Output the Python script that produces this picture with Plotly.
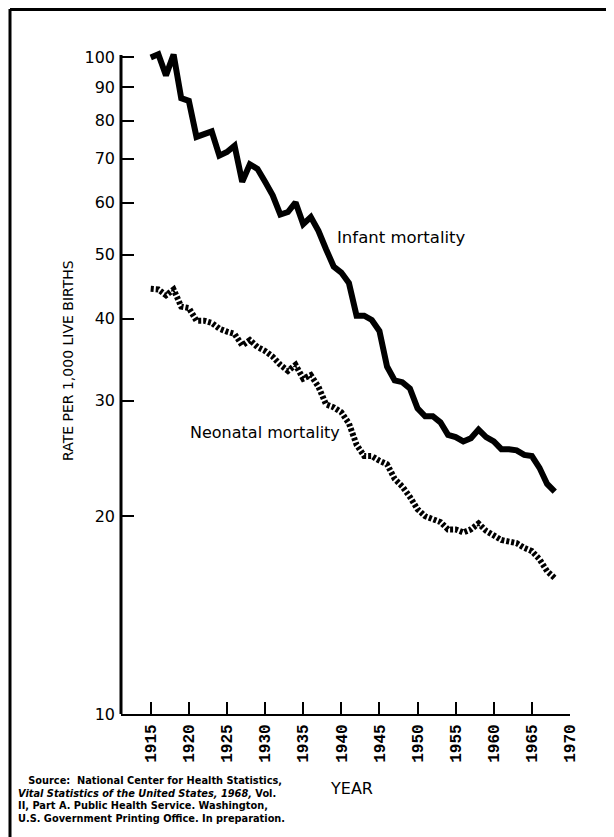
import plotly.graph_objects as go

years = list(range(1915, 1969))
infant = [99.9, 101.0, 93.8, 100.9, 86.6, 85.8, 75.6, 76.2, 77.1, 70.8,
          71.7, 73.3, 64.6, 68.7, 67.6, 64.6, 61.6, 57.6, 58.1, 60.1,
          55.7, 57.1, 54.4, 51.0, 48.0, 47.0, 45.3, 40.4, 40.4, 39.8,
          38.3, 33.8, 32.2, 32.0, 31.3, 29.2, 28.4, 28.4, 27.8, 26.6,
          26.4, 26.0, 26.3, 27.1, 26.4, 26.0, 25.3, 25.3, 25.2, 24.8,
          24.7, 23.7, 22.4, 21.8]
neonatal = [44.4, 44.3, 43.4, 44.3, 41.7, 41.5, 39.7, 39.7, 39.4, 38.6,
            38.2, 37.9, 36.4, 37.1, 36.2, 35.7, 35.0, 34.0, 33.3, 34.0,
            32.4, 32.8, 31.5, 29.6, 29.3, 28.8, 27.7, 25.7, 24.7, 24.7,
            24.3, 24.0, 22.8, 22.2, 21.4, 20.5, 20.0, 19.8, 19.6, 19.1,
            19.1, 18.9, 19.1, 19.5, 19.0, 18.7, 18.4, 18.3, 18.2, 17.9,
            17.7, 17.2, 16.5, 16.1]
x_ticks = list(range(1915, 1971, 5))
y_ticks = [10, 20, 30, 40, 50, 60, 70, 80, 90, 100]
source_lines = [
    "Source:  National Center for Health Statistics,",
    "<i>Vital Statistics of the United States, 1968,</i> Vol.",
    "II, Part A. Public Health Service. Washington,",
    "U.S. Government Printing Office. In preparation.",
]

# page body has an 8px margin; work in reference-image pixels and shift
OFF = 8
W, H = 614 - OFF, 837 - OFF
L, R, T, B = 121 - OFF, 44, 36, 123
PW, PH = W - L - R, H - T - B


def px(x):
    return (x - OFF - L) / PW


def py(y):
    return (H - B - (y - OFF)) / PH


fig = go.Figure()
fig.add_trace(go.Scatter(x=years, y=infant, mode="lines",
                         line=dict(color="black", width=6),
                         showlegend=False, hoverinfo="skip"))
fig.add_trace(go.Scatter(x=years, y=neonatal, mode="lines",
                         line=dict(color="black", width=6, dash="3px,2px"),
                         showlegend=False, hoverinfo="skip"))

fig.update_layout(
    width=W, height=H,
    margin=dict(l=L, r=R, t=T, b=B),
    paper_bgcolor="white", plot_bgcolor="white",
    xaxis=dict(range=[1911.1, 1970], tickvals=x_ticks,
               ticktext=[str(v) for v in x_ticks],
               ticks="inside", ticklen=12, tickwidth=2, tickcolor="black",
               tickangle=-90, showline=True, linecolor="black", linewidth=2,
               showgrid=False, zeroline=False, ticklabelstandoff=2,
               tickfont=dict(family="Liberation Mono", size=16, color="black",
                             weight="bold")),
    yaxis=dict(type="log", range=[1, 2.02], tickvals=y_ticks,
               ticktext=[str(v) for v in y_ticks],
               ticks="inside", ticklen=13, tickwidth=2, tickcolor="black",
               showline=False, ticklabelstandoff=5,
               showgrid=False, zeroline=False,
               tickfont=dict(family="DejaVu Sans", size=16, color="black")),
)

ann = []
ann.append(dict(text="RATE PER 1,000 LIVE BIRTHS", x=px(68), y=py(361),
                textangle=-90, font=dict(family="DejaVu Sans", size=14, color="black")))
ann.append(dict(text="Infant mortality", x=px(335), y=py(237), xanchor="left",
                font=dict(family="DejaVu Sans", size=16.5, color="black")))
ann.append(dict(text="Neonatal mortality", x=px(188), y=py(432), xanchor="left",
                font=dict(family="DejaVu Sans", size=16, color="black")))
ann.append(dict(text="YEAR", x=px(351), y=py(788),
                font=dict(family="DejaVu Sans", size=16, color="black")))
src_text = "<br>".join(["&nbsp;&nbsp;&nbsp;" + source_lines[0]] + source_lines[1:])
ann.append(dict(text=src_text, x=px(16), y=py(799), xanchor="left", align="left",
                font=dict(family="DejaVu Sans", size=9.8, color="black",
                          weight="bold")))

for a in ann:
    a.update(xref="paper", yref="paper", showarrow=False, yanchor="middle")
    a.setdefault("xanchor", "center")
fig.update_layout(annotations=ann)

# y axis line (10 .. just above 100)
fig.add_shape(type="line", xref="paper", yref="paper",
              x0=0, x1=0, y0=0, y1=py(55),
              line=dict(color="black", width=3))
# page frame
fig.add_shape(type="line", xref="paper", yref="paper",
              x0=px(10), x1=px(10), y0=py(9), y1=py(837),
              line=dict(color="black", width=3))
fig.add_shape(type="line", xref="paper", yref="paper",
              x0=px(10), x1=px(614), y0=py(9.5), y1=py(9.5),
              line=dict(color="black", width=3))

fig.write_html("out.html")
